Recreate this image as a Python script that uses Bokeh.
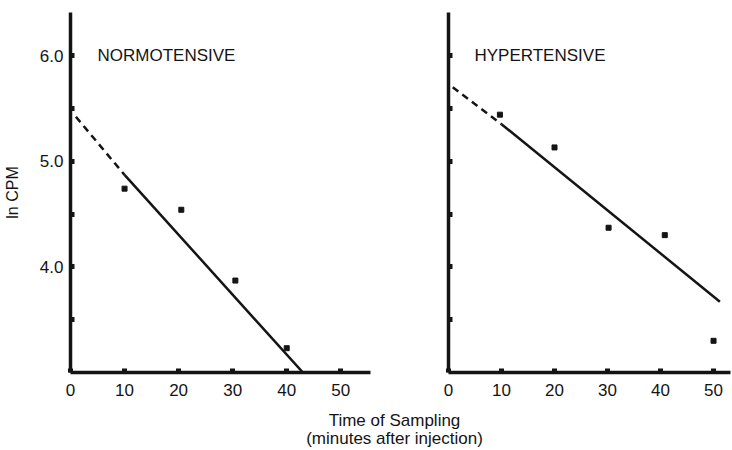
from bokeh.plotting import figure
from bokeh.layouts import row, column
from bokeh.models import Range1d, FixedTicker
from bokeh.core.properties import value
from bokeh.embed import file_html
from bokeh.resources import INLINE

# ---- data ----
norm_time = [10, 20.5, 30.5, 40]
norm_lncpm = [4.74, 4.54, 3.87, 3.23]
norm_dash_x = [1, 10]
norm_dash_y = [5.42, 4.87]
norm_fit_x = [10, 43]
norm_fit_y = [4.87, 3.0]

hyper_time = [9.7, 20, 30.2, 40.8, 50]
hyper_lncpm = [5.44, 5.13, 4.37, 4.30, 3.30]
hyper_dash_x = [0.8, 10]
hyper_dash_y = [5.70, 5.35]
hyper_fit_x = [10, 51.2]
hyper_fit_y = [5.35, 3.67]

x_ticks = [0, 10, 20, 30, 40, 50]
y_ticks = [3.5, 4.0, 4.5, 5.0, 5.5, 6.0]
y_tick_labels = {3.5: "", 4.0: "4.0", 4.5: "", 5.0: "5.0", 5.5: "", 6.0: "6.0"}

FONT = "Liberation Sans"
INK = "#141414"


def style(p, show_y_labels):
    p.xgrid.visible = False
    p.ygrid.visible = False
    p.outline_line_color = None
    p.background_fill_color = "white"
    p.border_fill_color = "white"
    for ax in (p.xaxis[0], p.yaxis[0]):
        ax.axis_line_width = 3.5
        ax.axis_line_color = INK
        ax.major_tick_in = 4
        ax.major_tick_out = 0
        ax.major_tick_line_width = 5
        ax.major_tick_line_color = INK
        ax.minor_tick_line_color = None
        ax.major_label_text_font = FONT
        ax.major_label_text_font_size = "17px"
        ax.major_label_text_color = INK
    p.xaxis[0].ticker = FixedTicker(ticks=x_ticks)
    p.yaxis[0].ticker = FixedTicker(ticks=y_ticks)
    p.xaxis[0].major_label_standoff = 11
    p.yaxis[0].major_label_standoff = 7
    if show_y_labels:
        p.yaxis[0].major_label_overrides = y_tick_labels
    else:
        p.yaxis[0].major_label_text_color = None


# ---- left panel ----
p1 = figure(width=408, height=400, output_backend="svg", toolbar_location=None,
            x_range=Range1d(0, 55.5), y_range=Range1d(3.0, 6.407),
            min_border_left=70, min_border_right=38, min_border_top=12, min_border_bottom=28)
style(p1, True)
p1.yaxis[0].axis_label = "ln CPM"
p1.yaxis[0].axis_label_text_font = FONT
p1.yaxis[0].axis_label_text_font_size = "16px"
p1.yaxis[0].axis_label_text_font_style = "normal"
p1.yaxis[0].axis_label_text_color = INK
p1.yaxis[0].axis_label_standoff = 16
p1.line(norm_dash_x, norm_dash_y, line_width=2.5, line_color=INK, line_dash="7 5")
p1.line(norm_fit_x, norm_fit_y, line_width=2.5, line_color=INK)
p1.scatter(norm_time, norm_lncpm, marker="square", size=5, color=INK)
p1.text(x=[5.0], y=[6.0], text=["NORMOTENSIVE"], text_font=value(FONT),
        text_font_size="17px", text_baseline="middle", text_align="left", text_color=INK)

# ---- right panel ----
p2 = figure(width=324, height=400, output_backend="svg", toolbar_location=None,
            x_range=Range1d(0, 53.2), y_range=Range1d(3.0, 6.407),
            min_border_left=40, min_border_right=2, min_border_top=12, min_border_bottom=28)
style(p2, False)
p2.line(hyper_dash_x, hyper_dash_y, line_width=2.5, line_color=INK, line_dash="7 5")
p2.line(hyper_fit_x, hyper_fit_y, line_width=2.5, line_color=INK)
p2.scatter(hyper_time, hyper_lncpm, marker="square", size=5, color=INK)
p2.text(x=[4.9], y=[6.0], text=["HYPERTENSIVE"], text_font=value(FONT),
        text_font_size="17px", text_baseline="middle", text_align="left", text_color=INK)

# ---- shared x caption ----
cap = figure(width=732, height=50, output_backend="svg", toolbar_location=None,
             x_range=Range1d(0, 732), y_range=Range1d(50, 0),
             min_border_left=0, min_border_right=0, min_border_top=0, min_border_bottom=0)
cap.xaxis.visible = False
cap.yaxis.visible = False
cap.xgrid.visible = False
cap.ygrid.visible = False
cap.outline_line_color = None
cap.text(x=[394, 394], y=[20, 38], text=["Time of Sampling", "(minutes after injection)"],
         text_font=value(FONT), text_font_size="17px", text_align="center",
         text_baseline="middle", text_color=INK)

layout = column(row(p1, p2), cap)
open("out.html", "w").write(file_html(layout, INLINE))
